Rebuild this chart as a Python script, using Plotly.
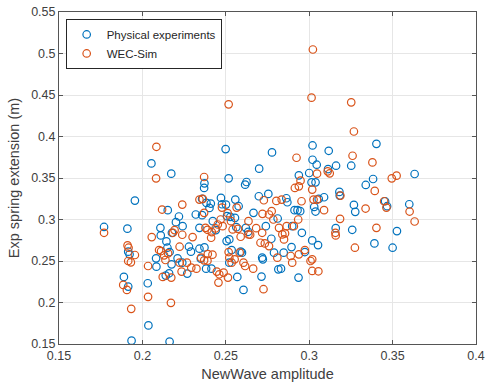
import plotly.graph_objects as go

# Physical experiments (NewWave amplitude, spring extension)
phys_x = [0.177, 0.191, 0.1955, 0.1889, 0.1915, 0.1915, 0.1923, 0.1935, 0.2036, 0.2032,
          0.2054, 0.2173, 0.2163, 0.2082, 0.2084, 0.2108, 0.2110, 0.2152, 0.2144, 0.2150,
          0.2163, 0.2177, 0.2201, 0.2219, 0.2241, 0.2140, 0.2160, 0.2175, 0.2211, 0.2239,
          0.2269, 0.2279, 0.2291, 0.2320, 0.2342, 0.2358, 0.2370, 0.2372, 0.2358, 0.2384,
          0.2402, 0.2410, 0.2422, 0.2342, 0.2350, 0.2372, 0.2382, 0.2414, 0.2440, 0.2471,
          0.2477, 0.2499, 0.2517, 0.2501, 0.2507, 0.2527, 0.2557, 0.2577, 0.2555, 0.2563,
          0.2521, 0.2505, 0.2535, 0.2521, 0.2569, 0.2589, 0.2597, 0.2606, 0.2616, 0.2624,
          0.2620, 0.2634, 0.2666, 0.2698, 0.2700, 0.2755, 0.2777, 0.2714, 0.2718, 0.2722,
          0.2740, 0.2773, 0.2789, 0.2811, 0.2815, 0.2831, 0.2847, 0.2863, 0.2869, 0.2898,
          0.2894, 0.2912, 0.2938, 0.2930, 0.2946, 0.2956, 0.2936, 0.2974, 0.3000, 0.3020,
          0.3020, 0.3045, 0.3014, 0.3038, 0.3030, 0.3038, 0.3057, 0.3018, 0.3053, 0.3089,
          0.3117, 0.3113, 0.3161, 0.3181, 0.3183, 0.3159, 0.3252, 0.3268, 0.3276, 0.3258,
          0.3339, 0.3383, 0.3403, 0.3391, 0.3455, 0.3467, 0.3526, 0.3500, 0.3600, 0.3632]
phys_y = [0.291, 0.289, 0.3228, 0.2308, 0.2192, 0.2612, 0.258, 0.154, 0.1724, 0.2232,
          0.3676, 0.3552, 0.1528, 0.2532, 0.2432, 0.290, 0.2808, 0.3112, 0.2736, 0.266,
          0.2608, 0.284, 0.2968, 0.3036, 0.292, 0.2324, 0.2352, 0.246, 0.2532, 0.248,
          0.2348, 0.2672, 0.2612, 0.306, 0.290, 0.3248, 0.338, 0.3436, 0.3052, 0.320,
          0.314, 0.3192, 0.298, 0.2648, 0.2528, 0.2664, 0.2408, 0.2408, 0.2872, 0.326,
          0.3184, 0.3848, 0.3496, 0.318, 0.304, 0.3032, 0.324, 0.316, 0.302, 0.2908,
          0.276, 0.274, 0.2632, 0.248, 0.2308, 0.2612, 0.260, 0.2152, 0.342, 0.3452,
          0.290, 0.2852, 0.308, 0.328, 0.3612, 0.3308, 0.3808, 0.2312, 0.254, 0.252,
          0.292, 0.2768, 0.260, 0.3012, 0.240, 0.2408, 0.260, 0.3256, 0.3208, 0.292,
          0.2668, 0.3112, 0.3532, 0.3112, 0.310, 0.284, 0.230, 0.2608, 0.356, 0.3892,
          0.372, 0.366, 0.3448, 0.3448, 0.3152, 0.3096, 0.3248, 0.2748, 0.2692, 0.3268,
          0.3828, 0.3608, 0.3648, 0.3332, 0.3288, 0.2896, 0.3648, 0.3176, 0.3092, 0.2876,
          0.3416, 0.3488, 0.3912, 0.2712, 0.322, 0.316, 0.286, 0.266, 0.3184, 0.3548]

# WEC-Sim
sim_x = [0.177, 0.1911, 0.1917, 0.1915, 0.1931, 0.1955, 0.1885, 0.1907, 0.1933, 0.2034,
         0.2034, 0.2056, 0.2084, 0.2082, 0.2118, 0.2100, 0.2112, 0.2130, 0.2138, 0.2122,
         0.2173, 0.2171, 0.2154, 0.2183, 0.2193, 0.2239, 0.2239, 0.2223, 0.2223, 0.2235,
         0.2267, 0.2301, 0.2293, 0.2324, 0.2342, 0.2370, 0.2362, 0.2370, 0.2378, 0.2390,
         0.2412, 0.2352, 0.2370, 0.2390, 0.2392, 0.2420, 0.2416, 0.2438, 0.2452, 0.2469,
         0.2477, 0.2481, 0.2456, 0.2446, 0.2461, 0.2487, 0.2513, 0.2517, 0.2511, 0.2531,
         0.2541, 0.2517, 0.2521, 0.2535, 0.2553, 0.2565, 0.2573, 0.2583, 0.2589, 0.2606,
         0.2616, 0.2636, 0.2636, 0.2646, 0.2664, 0.2682, 0.2708, 0.2720, 0.2728, 0.2726,
         0.2718, 0.2734, 0.2759, 0.2759, 0.2775, 0.2785, 0.2803, 0.2809, 0.2819, 0.2835,
         0.2839, 0.2849, 0.2855, 0.2865, 0.2889, 0.2898, 0.2908, 0.2914, 0.2924, 0.2938,
         0.2948, 0.2954, 0.2934, 0.2938, 0.2974, 0.3008, 0.3018, 0.3014, 0.3022, 0.3018,
         0.3026, 0.3047, 0.3047, 0.3055, 0.3018, 0.3089, 0.3111, 0.3123, 0.3157, 0.3159,
         0.3185, 0.3187, 0.3252, 0.3268, 0.3260, 0.3274, 0.3338, 0.3379, 0.3393, 0.3403,
         0.3449, 0.3463, 0.3495, 0.3524, 0.3602, 0.3632]
sim_y = [0.284, 0.2688, 0.266, 0.250, 0.2484, 0.2572, 0.2212, 0.2152, 0.1924, 0.244,
         0.2068, 0.2788, 0.3876, 0.3496, 0.312, 0.2632, 0.262, 0.2568, 0.2512, 0.2308,
         0.230, 0.1996, 0.2592, 0.284, 0.2872, 0.318, 0.2816, 0.2672, 0.248, 0.2372,
         0.248, 0.2788, 0.242, 0.2408, 0.324, 0.3512, 0.3248, 0.308, 0.290, 0.2876,
         0.278, 0.254, 0.2508, 0.2504, 0.2584, 0.2576, 0.2848, 0.2892, 0.294, 0.300,
         0.3144, 0.292, 0.224, 0.2372, 0.234, 0.236, 0.230, 0.4388, 0.3076, 0.298,
         0.288, 0.2608, 0.254, 0.248, 0.252, 0.3144, 0.2888, 0.260, 0.2792, 0.248,
         0.244, 0.298, 0.282, 0.2816, 0.2408, 0.2896, 0.272, 0.3068, 0.3232, 0.216,
         0.284, 0.2712, 0.306, 0.268, 0.310, 0.300, 0.3224, 0.254, 0.290, 0.324,
         0.282, 0.276, 0.2832, 0.292, 0.256, 0.248, 0.292, 0.338, 0.3744, 0.340,
         0.3468, 0.322, 0.300, 0.258, 0.2632, 0.250, 0.238, 0.4468, 0.5048, 0.336,
         0.324, 0.3552, 0.324, 0.2376, 0.252, 0.3112, 0.358, 0.3556, 0.284, 0.2808,
         0.3008, 0.3288, 0.4412, 0.406, 0.3768, 0.266, 0.3132, 0.3688, 0.3344, 0.290,
         0.322, 0.3144, 0.3496, 0.3528, 0.3096, 0.2976]

x_ticks = [0.15, 0.2, 0.25, 0.3, 0.35, 0.4]
x_labels = ["0.15", "0.2", "0.25", "0.3", "0.35", "0.4"]
y_ticks = [0.15, 0.2, 0.25, 0.3, 0.35, 0.4, 0.45, 0.5, 0.55]
y_labels = ["0.15", "0.2", "0.25", "0.3", "0.35", "0.4", "0.45", "0.5", "0.55"]

FONT = "Liberation Sans, Arial, Helvetica, sans-serif"
BLUE = "#0072BD"
ORANGE = "#D95319"

fig = go.Figure()
fig.add_trace(go.Scatter(
    x=phys_x, y=phys_y, mode="markers", name="Physical experiments",
    marker=dict(symbol="circle-open", size=7.5, color=BLUE, line=dict(width=1.2, color=BLUE)),
))
fig.add_trace(go.Scatter(
    x=sim_x, y=sim_y, mode="markers", name="WEC-Sim",
    marker=dict(symbol="circle-open", size=7.5, color=ORANGE, line=dict(width=1.2, color=ORANGE)),
))

axis_common = dict(
    showline=True, linecolor="#555555", linewidth=1, mirror="ticks",
    ticks="inside", ticklen=4, tickcolor="#555555", tickwidth=1,
    showgrid=True, gridcolor="#e6e6e6", gridwidth=1,
    zeroline=False, automargin=False, ticklabeloverflow="allow",
    tickfont=dict(family=FONT, size=12.5, color="#404040"),
)

fig.update_xaxes(
    range=[0.15, 0.4], tickvals=x_ticks, ticktext=x_labels,
    title=dict(text="NewWave amplitude", font=dict(family=FONT, size=14.5, color="#404040"), standoff=6),
    **axis_common,
)
fig.update_yaxes(
    range=[0.15, 0.55], tickvals=y_ticks, ticktext=y_labels,
    title=dict(text="Exp spring extension (m)", font=dict(family=FONT, size=14.5, color="#404040"), standoff=8),
    **axis_common,
)

fig.update_layout(
    width=486, height=389,
    margin=dict(l=59, r=10, t=12, b=45),
    paper_bgcolor="white", plot_bgcolor="white",
    font=dict(family=FONT, color="#262626"),
    legend=dict(
        x=0.016, y=0.979, xanchor="left", yanchor="top",
        bgcolor="white", bordercolor="#262626", borderwidth=1,
        font=dict(family=FONT, size=11.5, color="#262626"),
        tracegroupgap=0, itemwidth=30,
    ),
    showlegend=True,
)

fig.write_html("out.html")
